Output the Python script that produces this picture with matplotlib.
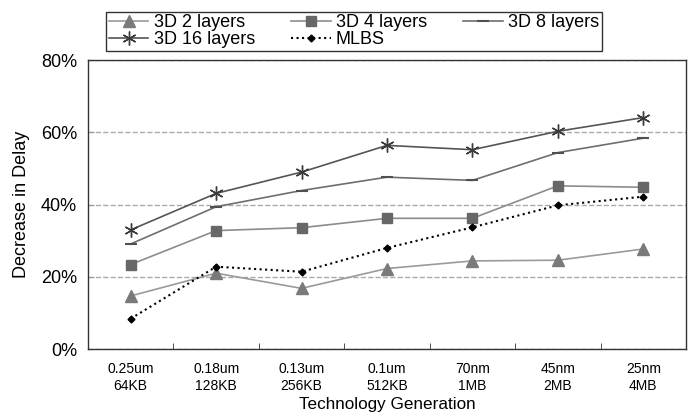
import numpy as np
import matplotlib
matplotlib.use('Agg')
import matplotlib.pyplot as plt
from matplotlib.ticker import PercentFormatter, FixedLocator

plt.rcParams['font.family'] = ['Liberation Sans', 'DejaVu Sans']

# データ
tech_labels = ['0.25um\n64KB', '0.18um\n128KB', '0.13um\n256KB', '0.1um\n512KB',
               '70nm\n1MB', '45nm\n2MB', '25nm\n4MB']
layers_2 = [14.7, 21.0, 16.8, 22.3, 24.4, 24.6, 27.7]
layers_4 = [23.4, 32.8, 33.6, 36.2, 36.2, 45.2, 44.8]
layers_8 = [29.1, 39.4, 43.9, 47.6, 46.7, 54.4, 58.4]
layers_16 = [33.0, 43.1, 49.0, 56.4, 55.2, 60.3, 64.1]
mlbs = [8.4, 22.8, 21.4, 28.0, 33.7, 39.8, 42.2]

x = np.arange(len(tech_labels))

fig = plt.figure(figsize=(6.95, 4.15), dpi=100)
ax = fig.add_axes([0.1266, 0.159, 0.987 - 0.1266, 0.855 - 0.159])

h2, = ax.plot(x, layers_2, '-^', color='#9a9a9a', mfc='#7a7a7a', mec='#7a7a7a',
              ms=8, lw=1.2, label='3D 2 layers')
h4, = ax.plot(x, layers_4, '-s', color='#8c8c8c', mfc='#676767', mec='#676767',
              ms=7, lw=1.2, label='3D 4 layers')
h8, = ax.plot(x, layers_8, '-_', color='#6e6e6e', mec='#505050',
              ms=8, mew=1.5, lw=1.2, label='3D 8 layers')
h16, = ax.plot(x, layers_16, '-', marker=(6, 2, 0), color='#555555', mec='#3a3a3a',
               ms=10, mew=1.0, lw=1.2, label='3D 16 layers')
hm, = ax.plot(x, mlbs, ':D', color='black', ms=3.5, lw=1.5, label='MLBS')

ax.set_xlim(-0.5, len(tech_labels) - 0.5)
ax.set_ylim(0, 80)
ax.set_xticks(x)
ax.set_xticklabels(tech_labels, fontsize=10, linespacing=1.3)
ax.xaxis.set_minor_locator(FixedLocator(np.arange(0.5, len(tech_labels) - 0.5, 1)))
ax.tick_params(axis='x', which='major', length=0, pad=9)
ax.tick_params(axis='x', which='minor', direction='in', length=4, color='#333333')
ax.set_yticks([0, 20, 40, 60, 80])
ax.yaxis.set_major_formatter(PercentFormatter(decimals=0))
ax.tick_params(axis='y', direction='in', length=4, color='#999999', labelsize=13, pad=8)
ax.grid(axis='y', linestyle='--', color='#aaaaaa', lw=1.0)
for s in ax.spines.values():
    s.set_color('#333333')
    s.set_linewidth(1.0)

ax.set_xlabel('Technology Generation', fontsize=12.3, labelpad=3)
ax.set_ylabel('Decrease in Delay', fontsize=13, labelpad=8)

# 凡例（行ごとに並ぶよう順番を入れ替える）
handles = [h2, h16, h4, hm, h8]
labels = [h.get_label() for h in handles]
fig.legend(handles, labels, ncol=3, mode='expand', fontsize=13,
           bbox_to_anchor=(0.1525, 0.877, 0.866 - 0.1525, 0.978 - 0.877),
           bbox_transform=fig.transFigure, loc='lower left', borderaxespad=0,
           fancybox=False, edgecolor='#333333', framealpha=1,
           handlelength=2.2, handletextpad=0.3, labelspacing=0.0,
           borderpad=0.15, columnspacing=1.0)

fig.savefig('out.png', dpi=100)
